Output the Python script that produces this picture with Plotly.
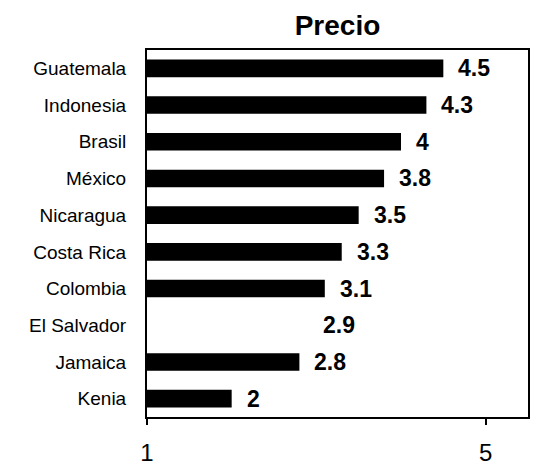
import plotly.graph_objects as go

countries = ["Guatemala", "Indonesia", "Brasil", "México", "Nicaragua",
             "Costa Rica", "Colombia", "El Salvador", "Jamaica", "Kenia"]
precio = [4.5, 4.3, 4.0, 3.8, 3.5, 3.3, 3.1, 2.9, 2.8, 2.0]
labels = ["4.5", "4.3", "4", "3.8", "3.5", "3.3", "3.1", "2.9", "2.8", "2"]
bar_colors = ["black"] * 7 + ["white"] + ["black"] * 2
x_ticks = [1, 5]

FONT = "Liberation Sans, Arial, sans-serif"

fig = go.Figure()
fig.add_trace(go.Bar(
    y=countries, x=precio, base=0, orientation="h",
    marker=dict(color=bar_colors, line=dict(width=0)),
    width=0.48, hoverinfo="skip",
))

for c, v, t in zip(countries, precio, labels):
    fig.add_annotation(x=v, y=c, text=f"<b>{t}</b>", showarrow=False,
                       xanchor="left", yanchor="middle", xshift=13,
                       font=dict(family=FONT, size=23, color="black"))

fig.update_layout(
    width=533, height=467,
    margin=dict(l=147, r=5, t=50, b=50),
    paper_bgcolor="white", plot_bgcolor="white",
    showlegend=False,
    title=dict(text="<b>Precio</b>", x=(147 + 528) / 2 / 533, xanchor="center",
               y=1 - 25 / 467, yanchor="middle",
               font=dict(family=FONT, size=28, color="black")),
    font=dict(family=FONT, color="black"),
)
fig.update_xaxes(
    range=[1, 5.5], tickvals=x_ticks, ticktext=[str(v) for v in x_ticks],
    showgrid=False, zeroline=False, automargin=False,
    showline=True, linecolor="black", linewidth=2, mirror=True,
    ticks="outside", ticklen=6, tickcolor="black", tickwidth=2,
    ticklabelstandoff=7,
    tickfont=dict(family=FONT, size=24, color="black"),
)
fig.update_yaxes(
    range=[9.5, -0.5], categoryorder="array", categoryarray=countries,
    showgrid=False, zeroline=False, automargin=False,
    showline=True, linecolor="black", linewidth=2, mirror=True,
    ticks="", ticklabelstandoff=15,
    tickfont=dict(family=FONT, size=19, color="black"),
)

fig.write_html("out.html", config={"displayModeBar": False},
               post_script="document.body.style.margin='0';document.body.style.overflow='hidden';")
